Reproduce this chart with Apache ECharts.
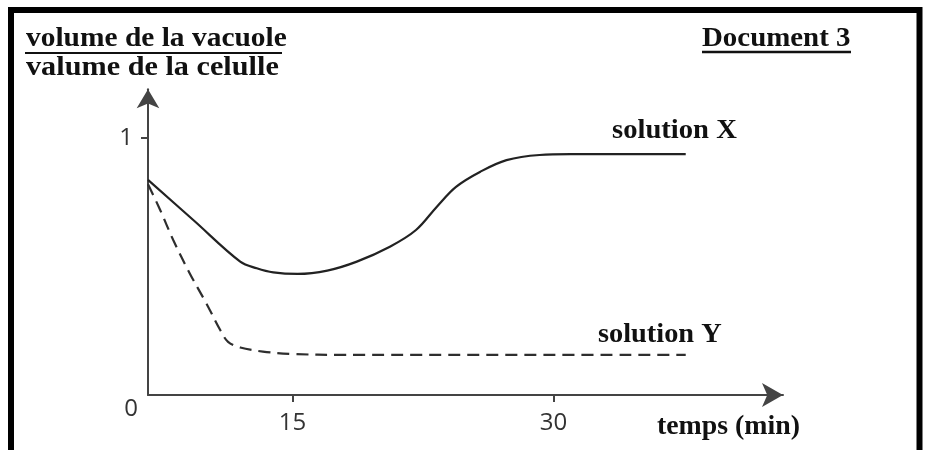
<!DOCTYPE html>
<html>
<head>
<meta charset="utf-8">
<script src="https://cdn.jsdelivr.net/npm/echarts@6/dist/echarts.min.js"></script>
<style>
html, body { margin: 0; padding: 0; background: #fff; }
#chart { width: 925px; height: 450px; }
</style>
</head>
<body>
<div id="chart"></div>
<script>
var timeX = [6.7, 9.35, 12.0, 12.95, 13.9, 15.3, 17.0, 18.7, 20.6, 22.1, 23.3, 24.4, 25.8, 27.3, 29.2, 31.0, 37.6];
var valX  = [0.837, 0.678, 0.519, 0.493, 0.477, 0.471, 0.484, 0.519, 0.577, 0.642, 0.733, 0.81, 0.869, 0.914, 0.934, 0.937, 0.937];
var timeY = [6.7, 7.4, 8.15, 9.1, 10.05, 10.85, 11.3, 12.0, 13.3, 14.9, 18.0, 37.6];
var valY  = [0.82, 0.72, 0.603, 0.473, 0.357, 0.253, 0.207, 0.185, 0.169, 0.16, 0.156, 0.156];
var xTicks = [15, 30];
var yTicks = [0, 1];

function pairs(xs, ys) {
    return xs.map(function (x, i) { return [x, ys[i]]; });
}

var serif = 'bold 27px "Liberation Serif", "Times New Roman", serif';
var sans = '"Open Sans", sans-serif';
var ink = '#111';

function label(txt, left, mid, sx) {
    return {
        type: 'text', x: left, y: mid, scaleX: sx,
        style: { text: txt, x: 0, y: 0, font: serif, fill: ink, textVerticalAlign: 'middle' }
    };
}

var myChart = echarts.init(document.getElementById('chart'), null, { renderer: 'canvas' });
var option = {
    backgroundColor: '#fff',
    animation: false,
    grid: { left: 148, right: 142, top: 89.2, bottom: 55 },
    xAxis: {
        type: 'value',
        min: 6.7,
        max: 43.19,
        splitLine: { show: false },
        axisLine: {
            lineStyle: { color: '#444', width: 2 },
            symbol: ['none', 'arrow'],
            symbolSize: [18, 21]
        },
        axisTick: { customValues: xTicks, length: 7, lineStyle: { color: '#444', width: 2 } },
        axisLabel: {
            customValues: xTicks, margin: 16,
            color: '#333', fontSize: 24, fontFamily: sans
        }
    },
    yAxis: {
        type: 'value',
        min: 0,
        max: 1.19,
        splitLine: { show: false },
        axisLine: {
            lineStyle: { color: '#444', width: 2 },
            symbol: ['none', 'arrow'],
            symbolSize: [17, 19]
        },
        axisTick: { customValues: [1], length: 7, lineStyle: { color: '#444', width: 2 } },
        axisLabel: {
            customValues: yTicks, margin: 10,
            color: '#333', fontSize: 24, fontFamily: sans,
            formatter: function (v) { return v === 0 ? '{z|0}' : '{o|' + v + '}'; },
            rich: {
                z: { padding: [28, 0, 0, 0], fontSize: 24, fontFamily: sans, color: '#333' },
                o: { padding: [0, 5, 0, 0], fontSize: 24, fontFamily: sans, color: '#333' }
            }
        }
    },
    series: [
        {
            name: 'solution X',
            type: 'line',
            data: pairs(timeX, valX),
            smooth: 0.35,
            symbol: 'none',
            lineStyle: { color: '#222', width: 2.2 }
        },
        {
            name: 'solution Y',
            type: 'line',
            data: pairs(timeY, valY),
            smooth: 0.35,
            symbol: 'none',
            lineStyle: { color: '#2e2e2e', width: 2.2, type: [12, 7] }
        }
    ],
    graphic: [
        // cadre noir
        { type: 'rect', shape: { x: 11, y: 10, width: 908.5, height: 500 },
          style: { fill: 'none', stroke: '#000', lineWidth: 6 }, silent: true },
        label('volume de la vacuole', 26, 39, 1.09),
        label('valume de la celulle', 26, 68, 1.12),
        { type: 'line', shape: { x1: 25, y1: 53, x2: 282, y2: 53 }, style: { stroke: ink, lineWidth: 2 } },
        label('Document 3', 702, 39, 1.07),
        { type: 'line', shape: { x1: 702, y1: 52, x2: 851, y2: 52 }, style: { stroke: ink, lineWidth: 2.5 } },
        label('solution X', 612, 131, 1.06),
        label('solution Y', 598, 335, 1.05),
        label('temps (min)', 657, 427, 1.03)
    ]
};
myChart.setOption(option);
</script>
</body>
</html>
